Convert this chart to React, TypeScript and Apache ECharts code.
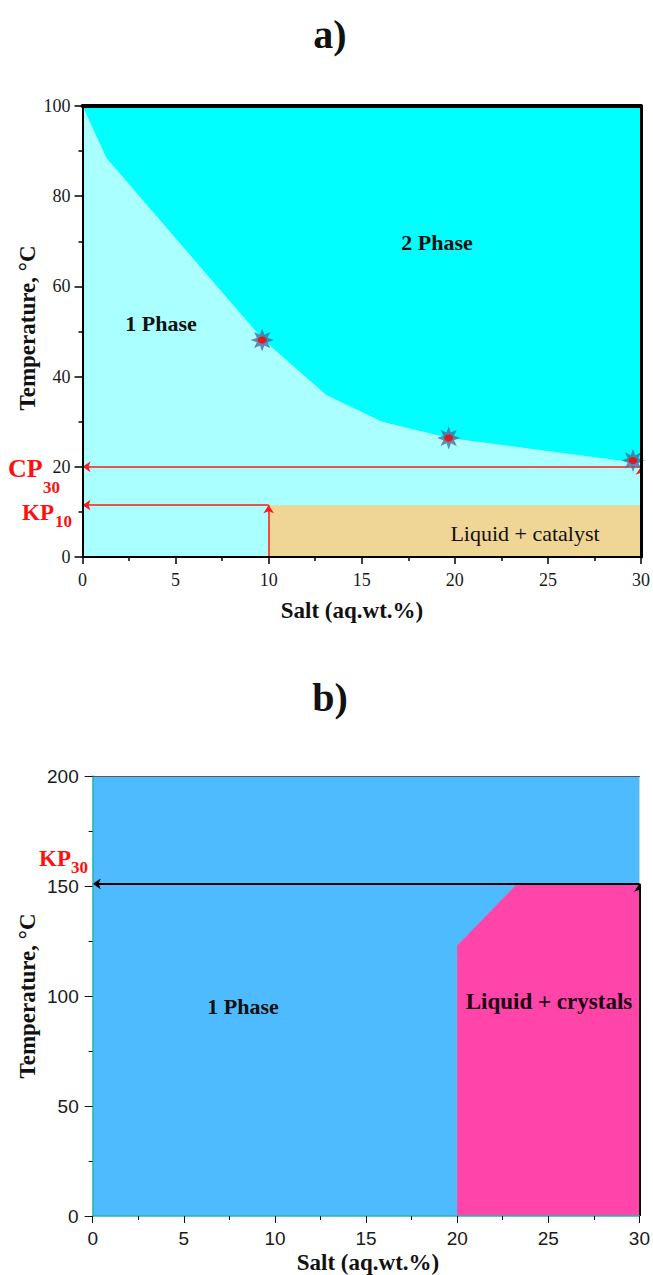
import React, { useEffect, useRef } from "react";
import * as echarts from "echarts";

// ---- Panel a) data ----
const boundarySalt = [0, 1.3, 9.7, 13.1, 16.1, 19.7, 30];
const boundaryTemp = [100, 88.4, 48.2, 35.9, 30.0, 26.4, 20.8];
const cloudSalt = [9.65, 19.67, 29.57];
const cloudTemp = [48.1, 26.4, 21.4];
const catalystSalt = [10, 30];
const catalystTemp = [0, 11.5];
const cp30Temp = 20;
const saltRangeA = [0, 30];
const tempRangeA = [0, 100];

// ---- Panel b) data ----
const crystalSalt = [20, 20, 23.3, 30, 30];
const crystalTemp = [0, 123, 151, 151, 0];
const kp30Temp = 151;
const saltRangeB = [0, 30];
const tempRangeB = [0, 200];

const SERIF = "'Liberation Serif', 'Times New Roman', serif";
const SANS = "'Liberation Sans', Arial, sans-serif";

function starPath(points: number, outer: number, inner: number) {
  let d = "";
  for (let i = 0; i < points * 2; i++) {
    const r = i % 2 === 0 ? outer : inner;
    const a = (Math.PI * i) / points - Math.PI / 2;
    const x = (r * Math.cos(a) + outer).toFixed(2);
    const y = (r * Math.sin(a) + outer).toFixed(2);
    d += (i === 0 ? "M" : "L") + x + "," + y;
  }
  return "path://" + d + "Z";
}

function polySeries(pts: number[][], color: string, xi: number, yi: number, z: number) {
  return {
    type: "custom",
    coordinateSystem: "cartesian2d",
    xAxisIndex: xi,
    yAxisIndex: yi,
    z,
    silent: true,
    clip: true,
    data: [[pts[0][0], pts[0][1]]],
    renderItem: (_p: any, api: any) => ({
      type: "polygon",
      shape: { points: pts.map((p) => api.coord(p)) },
      style: { fill: color, stroke: "none" },
    }),
  };
}

export default function App() {
  const ref = useRef<HTMLDivElement>(null);

  useEffect(() => {
    if (!ref.current) return;
    const chart = echarts.init(ref.current, undefined, { renderer: "svg" });

    const boundary = boundarySalt.map((s, i) => [s, boundaryTemp[i]]);
    const onePhaseA = [
      [saltRangeA[0], tempRangeA[0]],
      [saltRangeA[0], tempRangeA[1]],
      [saltRangeA[1], tempRangeA[1]],
      [saltRangeA[1], tempRangeA[0]],
    ];
    const twoPhaseA = [...boundary, [saltRangeA[1], tempRangeA[1]], [saltRangeA[0], tempRangeA[1]]];
    const catalystA = [
      [catalystSalt[0], catalystTemp[0]],
      [catalystSalt[0], catalystTemp[1]],
      [catalystSalt[1], catalystTemp[1]],
      [catalystSalt[1], catalystTemp[0]],
    ];
    const onePhaseB = [
      [saltRangeB[0], tempRangeB[0]],
      [saltRangeB[0], tempRangeB[1]],
      [saltRangeB[1], tempRangeB[1]],
      [saltRangeB[1], tempRangeB[0]],
    ];
    const crystalsB = crystalSalt.map((s, i) => [s, crystalTemp[i]]);

    const tickLabelA = { fontFamily: SERIF, fontSize: 18, color: "#1a1a1a" };
    const tickLabelB = { fontFamily: SANS, fontSize: 19, color: "#1a1a1a" };

    const titleStyle = (t: string, x: number, y: number, size: number, weight: string, color = "#111", family = SERIF, rot = 0) => ({
      type: "text",
      x,
      y,
      rotation: rot,
      z: 50,
      style: {
        text: t,
        fontFamily: family,
        fontSize: size,
        fontWeight: weight,
        fill: color,
        align: "center",
        verticalAlign: "middle",
      },
    });
    const leftText = (t: string, x: number, y: number, size: number) => ({
      type: "text",
      x,
      y,
      z: 50,
      style: {
        text: t,
        fontFamily: SERIF,
        fontSize: size,
        fontWeight: "bold",
        fill: "#ff1010",
        align: "left",
        verticalAlign: "middle",
      },
    });

    const star = starPath(8, 10, 5);

    chart.setOption({
      animation: false,
      backgroundColor: "#ffffff",
      grid: [
        { left: 82.5, top: 106, width: 559, height: 451 },
        { left: 92.7, top: 776, width: 548.5, height: 440 },
      ],
      xAxis: [
        {
          gridIndex: 0, type: "value", position: "bottom", min: 0, max: 30, interval: 5, z: 10,
          axisLine: { show: true, onZero: false, lineStyle: { color: "#000", width: 2 } },
          axisTick: { show: true, inside: false, length: 7, lineStyle: { color: "#000", width: 1.5 } },
          minorTick: { show: true, splitNumber: 2, length: 4, lineStyle: { color: "#000", width: 1.5 } },
          axisLabel: { ...tickLabelA, margin: 14 },
          splitLine: { show: false },
        },
        {
          gridIndex: 0, type: "value", position: "top", min: 0, max: 30, z: 10,
          axisLine: { show: true, onZero: false, lineStyle: { color: "#000", width: 4 } },
          axisTick: { show: false }, axisLabel: { show: false }, splitLine: { show: false },
        },
        {
          gridIndex: 1, type: "value", position: "bottom", min: 0, max: 30, interval: 5, z: 10,
          axisLine: { show: true, onZero: false, lineStyle: { color: "#1fb8b8", width: 1.5 } },
          axisTick: { show: true, inside: false, length: 7, lineStyle: { color: "#111", width: 1 } },
          minorTick: { show: true, splitNumber: 2, length: 4, lineStyle: { color: "#111", width: 1 } },
          axisLabel: { ...tickLabelB, margin: 13 },
          splitLine: { show: false },
        },
        {
          gridIndex: 1, type: "value", position: "top", min: 0, max: 30, z: 10,
          axisLine: { show: true, onZero: false, lineStyle: { color: "#556", width: 1.2 } },
          axisTick: { show: false }, axisLabel: { show: false }, splitLine: { show: false },
        },
      ],
      yAxis: [
        {
          gridIndex: 0, type: "value", position: "left", min: 0, max: 100, interval: 20, z: 10,
          axisLine: { show: true, onZero: false, lineStyle: { color: "#000", width: 2 } },
          axisTick: { show: true, inside: false, length: 8, lineStyle: { color: "#000", width: 1.5 } },
          minorTick: { show: true, splitNumber: 2, length: 4, lineStyle: { color: "#000", width: 1.5 } },
          axisLabel: { ...tickLabelA, margin: 12 },
          splitLine: { show: false },
        },
        {
          gridIndex: 0, type: "value", position: "right", min: 0, max: 100, z: 10,
          axisLine: { show: true, onZero: false, lineStyle: { color: "#000", width: 3 } },
          axisTick: { show: false }, axisLabel: { show: false }, splitLine: { show: false },
        },
        {
          gridIndex: 1, type: "value", position: "left", min: 0, max: 200, interval: 50, z: 10,
          axisLine: { show: true, onZero: false, lineStyle: { color: "#1fb8b8", width: 1.5 } },
          axisTick: { show: true, inside: false, length: 8, lineStyle: { color: "#111", width: 1 } },
          minorTick: { show: true, splitNumber: 2, length: 4, lineStyle: { color: "#111", width: 1 } },
          axisLabel: { ...tickLabelB, margin: 14 },
          splitLine: { show: false },
        },
      ],
      series: [
        polySeries(onePhaseA, "#aaffff", 0, 0, 1),
        polySeries(twoPhaseA, "#00ffff", 0, 0, 2),
        polySeries(catalystA, "#efd596", 0, 0, 2),
        polySeries(onePhaseB, "#4fbbff", 2, 2, 1),
        polySeries(crystalsB, "#ff45a9", 2, 2, 2),
        {
          type: "lines",
          coordinateSystem: "cartesian2d",
          xAxisIndex: 0,
          yAxisIndex: 0,
          z: 5,
          silent: true,
          symbol: ["none", "arrow"],
          symbolSize: 8,
          lineStyle: { color: "#ff1a1a", width: 1.5, opacity: 1, curveness: 0 },
          data: [
            { coords: [[saltRangeA[1], cp30Temp], [saltRangeA[0], cp30Temp]] },
            { coords: [[saltRangeA[1], 0], [saltRangeA[1], cp30Temp]] },
            { coords: [[catalystSalt[0], 0], [catalystSalt[0], catalystTemp[1]]] },
            { coords: [[catalystSalt[0], catalystTemp[1]], [saltRangeA[0], catalystTemp[1]]] },
          ],
        },
        {
          type: "lines",
          coordinateSystem: "cartesian2d",
          xAxisIndex: 2,
          yAxisIndex: 2,
          z: 5,
          silent: true,
          symbol: ["none", "arrow"],
          symbolSize: 8,
          lineStyle: { color: "#000", width: 2, opacity: 1, curveness: 0 },
          data: [
            { coords: [[saltRangeB[1], kp30Temp], [saltRangeB[0], kp30Temp]] },
            { coords: [[saltRangeB[1], 0], [saltRangeB[1], kp30Temp]] },
          ],
        },
        {
          type: "scatter",
          xAxisIndex: 0,
          yAxisIndex: 0,
          z: 6,
          silent: true,
          symbol: star,
          symbolSize: 23,
          itemStyle: { color: "#4b6c9c" },
          data: cloudSalt.map((s, i) => [s, cloudTemp[i]]),
        },
        {
          type: "scatter",
          xAxisIndex: 0,
          yAxisIndex: 0,
          z: 7,
          silent: true,
          symbol: "circle",
          symbolSize: [9, 7],
          itemStyle: { color: "#ff0000" },
          data: cloudSalt.map((s, i) => [s, cloudTemp[i]]),
        },
      ],
      graphic: [
        titleStyle("a)", 330, 34, 40, "bold"),
        titleStyle("b)", 330, 697, 40, "bold"),
        titleStyle("Temperature, °C", 27, 328, 23, "bold", "#111", SERIF, Math.PI / 2),
        titleStyle("Salt (aq.wt.%)", 352, 610, 23, "bold"),
        titleStyle("2 Phase", 437, 242, 22, "bold"),
        titleStyle("1 Phase", 161, 323, 22, "bold"),
        titleStyle("Liquid + catalyst", 525, 533, 22, "normal"),
        leftText("CP", 8, 468, 26),
        leftText("30", 43, 487, 17),
        leftText("KP", 22, 512, 23),
        leftText("10", 55, 521, 17),
        titleStyle("Temperature, °C", 27, 996, 23, "bold", "#111", SERIF, Math.PI / 2),
        titleStyle("Salt (aq.wt.%)", 368, 1262, 23, "bold"),
        titleStyle("1 Phase", 243, 1006, 22, "bold"),
        titleStyle("Liquid + crystals", 549, 1001, 23, "bold", "#1a0010"),
        leftText("KP", 39, 858, 23),
        leftText("30", 71, 867, 17),
      ],
    });

    return () => chart.dispose();
  }, []);

  return (
    <div
      ref={ref}
      style={{ position: "fixed", left: 0, top: 0, width: 653, height: 1275 }}
    />
  );
}
